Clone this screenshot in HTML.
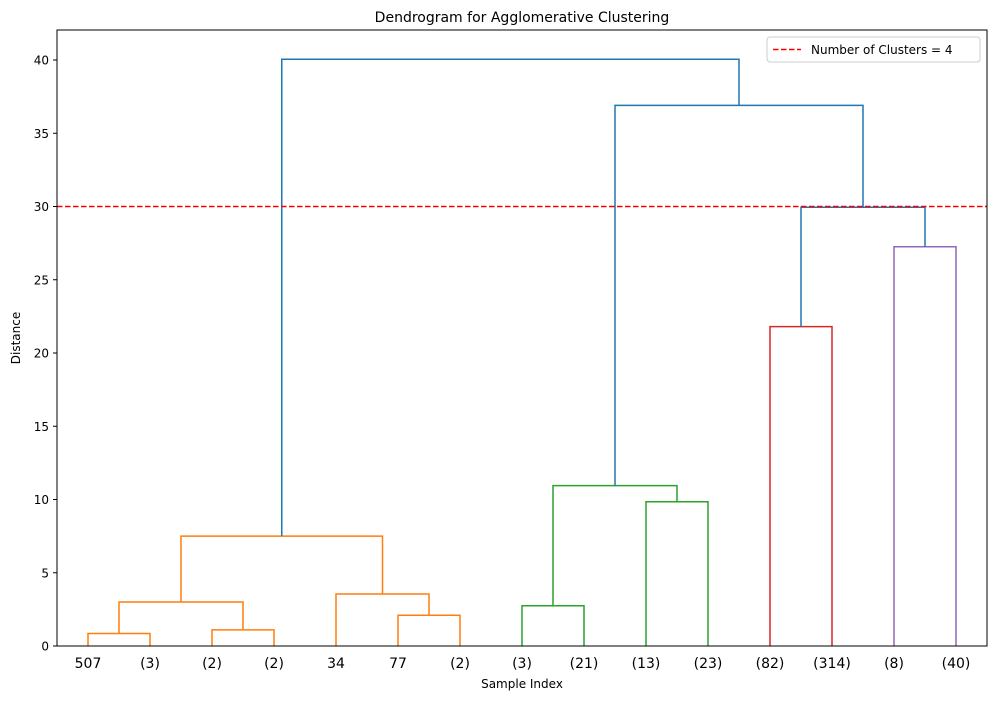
<!DOCTYPE html>
<html><head><meta charset="utf-8"><style>
body{margin:0;background:#fff;font-family:"DejaVu Sans","Liberation Sans",sans-serif;}
svg text{font-family:"DejaVu Sans","Liberation Sans",sans-serif;}
</style></head><body>
<svg id="chart" width="997" height="700" xmlns="http://www.w3.org/2000/svg">
<rect width="997" height="700" fill="#fff"/>
<text x="522" y="22" text-anchor="middle" font-size="14">Dendrogram for Agglomerative Clustering</text>
<g id="links"></g>
<g id="yticks"></g>
<g id="xticks"></g>
<line id="thr" x1="57" x2="987" stroke="#ff0000" stroke-width="1.5" stroke-dasharray="5.5,2.5"/>
<rect x="57" y="30" width="930" height="616" fill="none" stroke="#000" stroke-width="1"/>
<text transform="translate(20,338) rotate(-90)" text-anchor="middle" font-size="12">Distance</text>
<text x="522" y="688" text-anchor="middle" font-size="12">Sample Index</text>
<g>
<rect x="767" y="37" width="213" height="25" rx="3" fill="#fff" stroke="#ccc"/>
<line x1="773" x2="801" y1="49.5" y2="49.5" stroke="#ff0000" stroke-width="1.5" stroke-dasharray="5.5,2.5"/>
<text x="811" y="54" font-size="12">Number of Clusters = 4</text>
</g>
</svg>
<script>
const leafLabels=["507","(3)","(2)","(2)","34","77","(2)","(3)","(21)","(13)","(23)","(82)","(314)","(8)","(40)"];
const linkX=[[5,5,15,15],[25,25,35,35],[10,10,30,30],[55,55,65,65],[45,45,60,60],[20,20,52.5,52.5],[75,75,85,85],[95,95,105,105],[80,80,100,100],[115,115,125,125],[135,135,145,145],[120,120,140,140],[90,90,130,130],[36.25,36.25,110,110]];
const linkY=[[0,0.85,0.85,0],[0,1.1,1.1,0],[0.85,3.0,3.0,1.1],[0,2.1,2.1,0],[0,3.55,3.55,2.1],[3.0,7.5,7.5,3.55],[0,2.75,2.75,0],[0,9.85,9.85,0],[2.75,10.95,10.95,9.85],[0,21.8,21.8,0],[0,27.25,27.25,0],[21.8,29.95,29.95,27.25],[10.95,36.9,36.9,29.95],[7.5,40.05,40.05,36.9]];
const linkColors=["#ff7f0e","#ff7f0e","#ff7f0e","#ff7f0e","#ff7f0e","#ff7f0e","#2ca02c","#2ca02c","#2ca02c","#d62728","#9467bd","#1f77b4","#1f77b4","#1f77b4"];
const yTicks=[0,5,10,15,20,25,30,35,40];
const threshold=30;
const X=v=>57+v*6.2, Y=v=>646-v*14.65;
const NS="http://www.w3.org/2000/svg";
const L=document.getElementById('links');
linkX.forEach((xs,i)=>{
 const p=document.createElementNS(NS,'polyline');
 p.setAttribute('points',xs.map((x,j)=>X(x)+','+Y(linkY[i][j])).join(' '));
 p.setAttribute('fill','none');p.setAttribute('stroke',linkColors[i]);p.setAttribute('stroke-width','1.5');
 
 
 L.appendChild(p);
});
const YT=document.getElementById('yticks');
yTicks.forEach(t=>{
 const y=Y(t);
 const l=document.createElementNS(NS,'line');
 l.setAttribute('x1',53);l.setAttribute('x2',57);l.setAttribute('y1',y);l.setAttribute('y2',y);l.setAttribute('stroke','#000');
 
 
 YT.appendChild(l);
 const tx=document.createElementNS(NS,'text');
 tx.setAttribute('x',49);tx.setAttribute('y',y+4.5);tx.setAttribute('text-anchor','end');tx.setAttribute('font-size','12');
 tx.textContent=t;
 
 
 YT.appendChild(tx);
});
const XT=document.getElementById('xticks');
leafLabels.forEach((lab,i)=>{
 const x=X(5+10*i);
 const tx=document.createElementNS(NS,'text');
 tx.setAttribute('x',x);tx.setAttribute('y',668);tx.setAttribute('text-anchor','middle');tx.setAttribute('font-size','14');
 tx.textContent=lab;
 
 
 XT.appendChild(tx);
});
const th=document.getElementById('thr');th.setAttribute('y1',Y(threshold));th.setAttribute('y2',Y(threshold));
</script>
</body></html>
